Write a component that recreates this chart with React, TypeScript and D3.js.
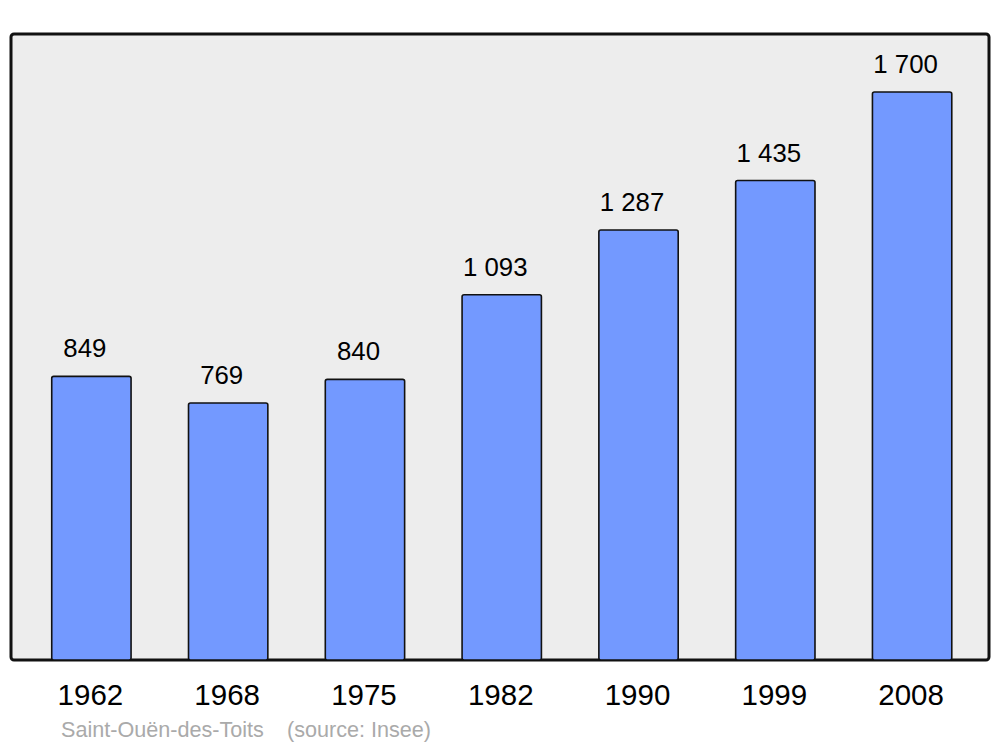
import React from "react";
import * as d3 from "d3";

const years = ["1962", "1968", "1975", "1982", "1990", "1999", "2008"];
const population = [849, 769, 840, 1093, 1287, 1435, 1700];
const valueLabels = ["849", "769", "840", "1 093", "1 287", "1 435", "1 700"];
const commune = "Saint-Ouën-des-Toits";
const source = "(source: Insee)";

const W = 1000;
const H = 747;
const frame = { x: 11, y: 34, w: 978, h: 626 };

export default function App() {
  const x = d3
    .scaleBand<string>()
    .domain(years)
    .range([23, 980.5])
    .paddingInner(0.42)
    .paddingOuter(0.21);
  const y = d3.scaleLinear().domain([0, 1700]).range([660, 92]);
  const font = "'Liberation Sans', Arial, sans-serif";

  return (
    <svg
      width={W}
      height={H}
      style={{ position: "absolute", left: 0, top: 0, background: "#fff" }}
      fontFamily={font}
    >
      <rect
        x={frame.x}
        y={frame.y}
        width={frame.w}
        height={frame.h}
        rx={3}
        fill="#ededed"
        stroke="#111"
        strokeWidth={3}
      />
      {years.map((yr, i) => {
        const bx = x(yr) as number;
        const bw = x.bandwidth();
        const top = y(population[i]);
        return (
          <g key={yr}>
            <rect
              x={bx}
              y={top}
              width={bw}
              height={y(0) - top}
              rx={2}
              fill="#7399ff"
              stroke="#111"
              strokeWidth={1.6}
            />
            <text
              x={bx + bw / 2 - 6.5}
              y={top - 19}
              textAnchor="middle"
              fontSize={25.8}
              fill="#000"
            >
              {valueLabels[i]}
            </text>
            <text
              x={bx + bw / 2 - 1}
              y={705}
              textAnchor="middle"
              fontSize={29.5}
              fill="#000"
            >
              {yr}
            </text>
          </g>
        );
      })}
      <text x={61} y={737} fontSize={21.6} fill="#aaaaaa">
        {commune}
      </text>
      <text x={287} y={737} fontSize={21.6} fill="#aaaaaa">
        {source}
      </text>
    </svg>
  );
}
